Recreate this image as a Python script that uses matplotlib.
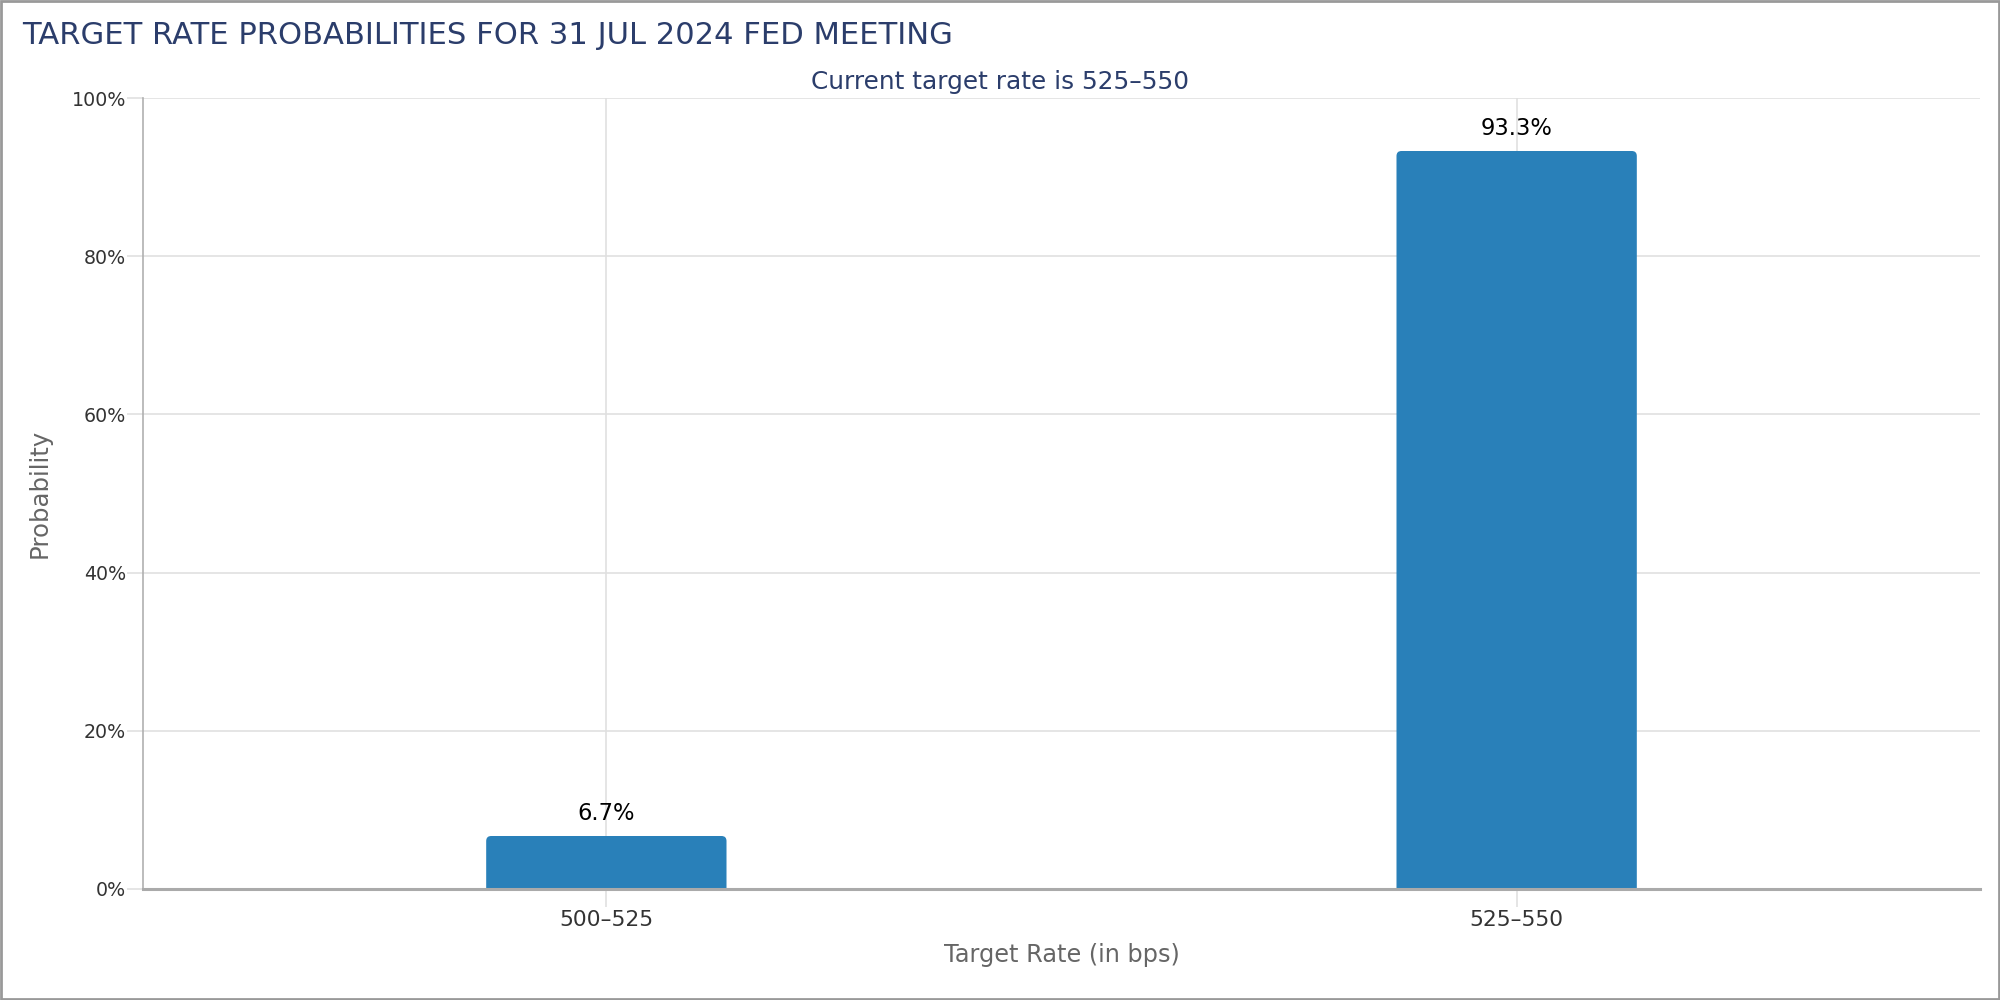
import matplotlib
matplotlib.use("Agg")
import matplotlib.pyplot as plt
from matplotlib.patches import FancyBboxPatch, Rectangle

# ---- data ----
categories = ["500–525", "525–550"]
probabilities = [6.7, 93.3]
value_labels = ["6.7%", "93.3%"]
yticks = [0, 20, 40, 60, 80, 100]
ytick_labels = ["0%", "20%", "40%", "60%", "80%", "100%"]
title = "TARGET RATE PROBABILITIES FOR 31 JUL 2024 FED MEETING"
subtitle = "Current target rate is 525–550"
xlabel = "Target Rate (in bps)"
ylabel = "Probability"

BAR = "#2980B9"
NAVY = "#2B3D6B"
GRID = "#E0E0E0"

plt.rcParams["font.family"] = ["DejaVu Sans"]

fig = plt.figure(figsize=(20, 10), dpi=100)
fig.patch.set_facecolor("white")
ax_rect = [0.0715, 0.111, 0.9185, 0.791]
ax = fig.add_axes(ax_rect)

x = list(range(len(categories)))
margin = 0.509
bars = ax.bar(x, probabilities, width=0.264, color=BAR, zorder=3)
ax.set_xlim(-margin, len(categories) - 1 + margin)
ax.set_ylim(0, 100)

# rounded top corners (bottom rounding falls below the axes and is clipped)
xr = len(categories) - 1 + 2 * margin
px_per_x = ax_rect[2] * 2000 / xr
px_per_y = ax_rect[3] * 1000 / 100
r_px = 5
rs = r_px / px_per_x
ry = r_px / px_per_y
asp = ry / rs
for rect in bars:
    x0, w, h = rect.get_x(), rect.get_width(), rect.get_height()
    rect.set_visible(False)
    ax.add_patch(FancyBboxPatch((x0, -3 * ry), w, h + 3 * ry,
                                boxstyle=f"round,pad=0,rounding_size={rs}",
                                mutation_aspect=asp, fc=BAR, ec="none", zorder=3))

for xi, v, lab in zip(x, probabilities, value_labels):
    ax.annotate(lab, (xi, v), xytext=(0, 11.5), textcoords="offset points",
                ha="center", va="baseline", fontsize=16.3, color="black", zorder=4)

ax.set_yticks(yticks)
ax.set_yticklabels(ytick_labels)
ax.set_xticks(x)
ax.set_xticklabels(categories)

ax.grid(True, axis="both", color=GRID, linewidth=1.2, zorder=0)
ax.tick_params(axis="y", length=11.5, width=1.2, color=GRID, pad=0.8,
               labelsize=13.7, labelcolor="#333333")
ax.tick_params(axis="x", length=13, width=1.2, color=GRID, pad=2,
               labelsize=15.7, labelcolor="#333333")

for s in ["top", "right"]:
    ax.spines[s].set_visible(False)
ax.spines["left"].set_color("#B0B0B0")
ax.spines["left"].set_linewidth(1.2)
ax.spines["bottom"].set_color("#AAAAAA")
ax.spines["bottom"].set_linewidth(2.2)
ax.spines["bottom"].set_zorder(5)

ax.set_xlabel(xlabel, fontsize=17.3, color="#666666", va="baseline")
ax.xaxis.set_label_coords(0.5, -0.0923)
ax.set_ylabel(ylabel, fontsize=17.6, color="#666666", va="center")
ax.yaxis.set_label_coords(-0.0561, 0.5)

fig.text(0.011, 0.956, title, fontsize=22.1, color=NAVY, ha="left", va="baseline")
fig.text(0.5, 0.911, subtitle, fontsize=17.8, color=NAVY, ha="center", va="baseline")

# outer frame
fig.patches.append(Rectangle((0.0005, 0.001), 0.999, 0.998, transform=fig.transFigure,
                             fill=False, ec="#999999", lw=2, zorder=10))

fig.savefig("out.png", dpi=100, facecolor="white")
